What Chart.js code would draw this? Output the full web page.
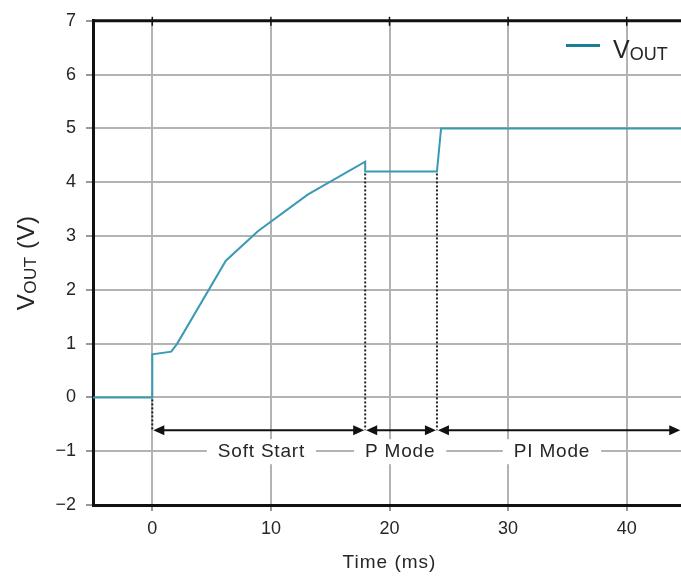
<!DOCTYPE html>
<html>
<head>
<meta charset="utf-8">
<script src="https://cdn.jsdelivr.net/npm/chart.js@4/dist/chart.umd.min.js"></script>
<style>
  html, body { margin: 0; padding: 0; background: #fff; overflow: hidden; }
  canvas { display: block; }
</style>
</head>
<body>
<canvas id="voutChart" width="688" height="577"></canvas>
<script>
// output voltage trace (ms, V)
const timeMs = [-5, 0, 0, 1.6, 2.1, 6.2, 8.9, 13.1, 17.95, 17.95, 24.0, 24.35, 45];
const vout = [0, 0, 0.8, 0.85, 1.0, 2.54, 3.09, 3.77, 4.38, 4.2, 4.2, 5.0, 5.0];

const xTicks = [0, 10, 20, 30, 40];
const yTicks = [-2, -1, 0, 1, 2, 3, 4, 5, 6, 7];

// phase markers under the trace
const phaseBounds = [0, 17.95, 24.0, 44.6];
const phaseNames = ['Soft Start', 'P Mode', 'PI Mode'];
const phaseLabelX = [9.2, 20.9, 33.7];
const markerTop = [0, 4.2, 4.2];
const arrowY = -0.61;
const labelY = -1;

const FONT = '"Liberation Sans", Arial, sans-serif';
const TEXT = '#262626';

function drawArrow(ctx, x0, x1, yy) {
  const head = 11, half = 5;
  ctx.beginPath();
  ctx.moveTo(x0 + head - 1, yy);
  ctx.lineTo(x1 - head + 1, yy);
  ctx.stroke();
  ctx.beginPath();
  ctx.moveTo(x0, yy);
  ctx.lineTo(x0 + head, yy - half);
  ctx.lineTo(x0 + head, yy + half);
  ctx.closePath();
  ctx.fill();
  ctx.beginPath();
  ctx.moveTo(x1, yy);
  ctx.lineTo(x1 - head, yy - half);
  ctx.lineTo(x1 - head, yy + half);
  ctx.closePath();
  ctx.fill();
}

// V with subscript OUT, then optional tail text
function drawVout(ctx, x0, base, big, small, tail) {
  ctx.textAlign = 'left';
  ctx.textBaseline = 'alphabetic';
  ctx.font = big + 'px ' + FONT;
  ctx.fillText('V', x0, base);
  let w = ctx.measureText('V').width;
  ctx.font = small + 'px ' + FONT;
  ctx.fillText('OUT', x0 + w, base + 2);
  w += ctx.measureText('OUT').width;
  if (tail) {
    ctx.font = big + 'px ' + FONT;
    ctx.fillText(tail, x0 + w, base);
    w += ctx.measureText(tail).width;
  }
  return w;
}

const phasePlugin = {
  id: 'phasePlugin',
  afterDatasetsDraw(chart) {
    const { ctx, chartArea: a, scales: { x, y } } = chart;
    ctx.save();

    // top frame with tick marks
    ctx.strokeStyle = '#111';
    ctx.lineWidth = 3;
    ctx.beginPath();
    ctx.moveTo(a.left - 1, a.top);
    ctx.lineTo(a.right, a.top);
    ctx.stroke();
    ctx.lineWidth = 1.5;
    xTicks.forEach(v => {
      const px = x.getPixelForValue(v);
      ctx.beginPath();
      ctx.moveTo(px, a.top - 4);
      ctx.lineTo(px, a.top + 5);
      ctx.stroke();
    });

    // label boxes
    ctx.font = '19px ' + FONT;
    ctx.letterSpacing = '0.8px';
    ctx.textAlign = 'center';
    ctx.textBaseline = 'middle';
    phaseNames.forEach((name, i) => {
      const cx = x.getPixelForValue(phaseLabelX[i]);
      const cy = y.getPixelForValue(labelY);
      const w = ctx.measureText(name).width + 22;
      ctx.fillStyle = '#fff';
      ctx.fillRect(cx - w / 2, cy - 12, w, 25);
      ctx.fillStyle = TEXT;
      ctx.fillText(name, cx, cy + 1);
    });
    ctx.letterSpacing = '0px';

    // dotted markers
    ctx.strokeStyle = '#222';
    ctx.lineWidth = 2;
    ctx.setLineDash([2, 2]);
    const ay = y.getPixelForValue(arrowY);
    markerTop.forEach((top, i) => {
      const px = x.getPixelForValue(phaseBounds[i]);
      ctx.beginPath();
      ctx.moveTo(px, y.getPixelForValue(top) + 2);
      ctx.lineTo(px, ay);
      ctx.stroke();
    });
    ctx.setLineDash([]);

    // phase arrows
    ctx.strokeStyle = '#111';
    ctx.fillStyle = '#111';
    ctx.lineWidth = 2;
    for (let i = 0; i < phaseNames.length; i++) {
      const x0 = x.getPixelForValue(phaseBounds[i]) + 1;
      const x1 = x.getPixelForValue(phaseBounds[i + 1]) - 1;
      drawArrow(ctx, x0, x1, ay);
    }

    // legend
    ctx.strokeStyle = '#1b7d98';
    ctx.lineWidth = 3;
    ctx.beginPath();
    ctx.moveTo(566, 45.5);
    ctx.lineTo(600, 45.5);
    ctx.stroke();
    ctx.fillStyle = TEXT;
    drawVout(ctx, 613, 58, 25, 18);

    // axis titles
    ctx.font = '19px ' + FONT;
    ctx.letterSpacing = '1px';
    ctx.textAlign = 'center';
    ctx.textBaseline = 'middle';
    ctx.fillText('Time (ms)', (a.left + a.right) / 2, 563);

    ctx.save();
    ctx.translate(34, (a.top + a.bottom) / 2);
    ctx.rotate(-Math.PI / 2);
    ctx.letterSpacing = '0.5px';
    ctx.font = '24px ' + FONT;
    let total = ctx.measureText('V').width + ctx.measureText(' (V)').width;
    ctx.font = '17px ' + FONT;
    total += ctx.measureText('OUT').width;
    drawVout(ctx, -total / 2, 0, 24, 17, ' (V)');
    ctx.restore();
    ctx.letterSpacing = '0px';

    ctx.restore();
  }
};

new Chart(document.getElementById('voutChart').getContext('2d'), {
  type: 'line',
  data: {
    datasets: [{
      label: 'VOUT',
      data: timeMs.map((t, i) => ({ x: t, y: vout[i] })),
      borderColor: '#3a9ab4',
      borderWidth: 2,
      pointRadius: 0,
      tension: 0,
      fill: false
    }]
  },
  options: {
    responsive: false,
    animation: false,
    layout: { padding: { top: 16, right: 2, left: 0, bottom: 0 } },
    plugins: { legend: { display: false }, tooltip: { enabled: false } },
    scales: {
      x: {
        type: 'linear',
        min: -5,
        max: 45,
        afterBuildTicks: s => { s.ticks = xTicks.map(v => ({ value: v })); },
        afterFit: s => { s.height = 72; },
        grid: { color: '#b3b3b3', lineWidth: 2, tickLength: 6, tickColor: '#999' },
        border: { color: '#111', width: 3 },
        ticks: { color: TEXT, font: { family: FONT, size: 18 }, padding: 7, maxRotation: 0 }
      },
      y: {
        min: -2,
        max: 7,
        afterBuildTicks: s => { s.ticks = yTicks.map(v => ({ value: v })); },
        afterFit: s => { s.width = 93; },
        grid: { color: '#b3b3b3', lineWidth: 2, tickLength: 7, tickColor: '#999' },
        border: { color: '#111', width: 3 },
        ticks: {
          color: TEXT,
          font: { family: FONT, size: 18 },
          padding: 10,
          callback: v => (v < 0 ? '\u2212' + Math.abs(v) : String(v))
        }
      }
    }
  },
  plugins: [phasePlugin]
});
</script>
</body>
</html>
